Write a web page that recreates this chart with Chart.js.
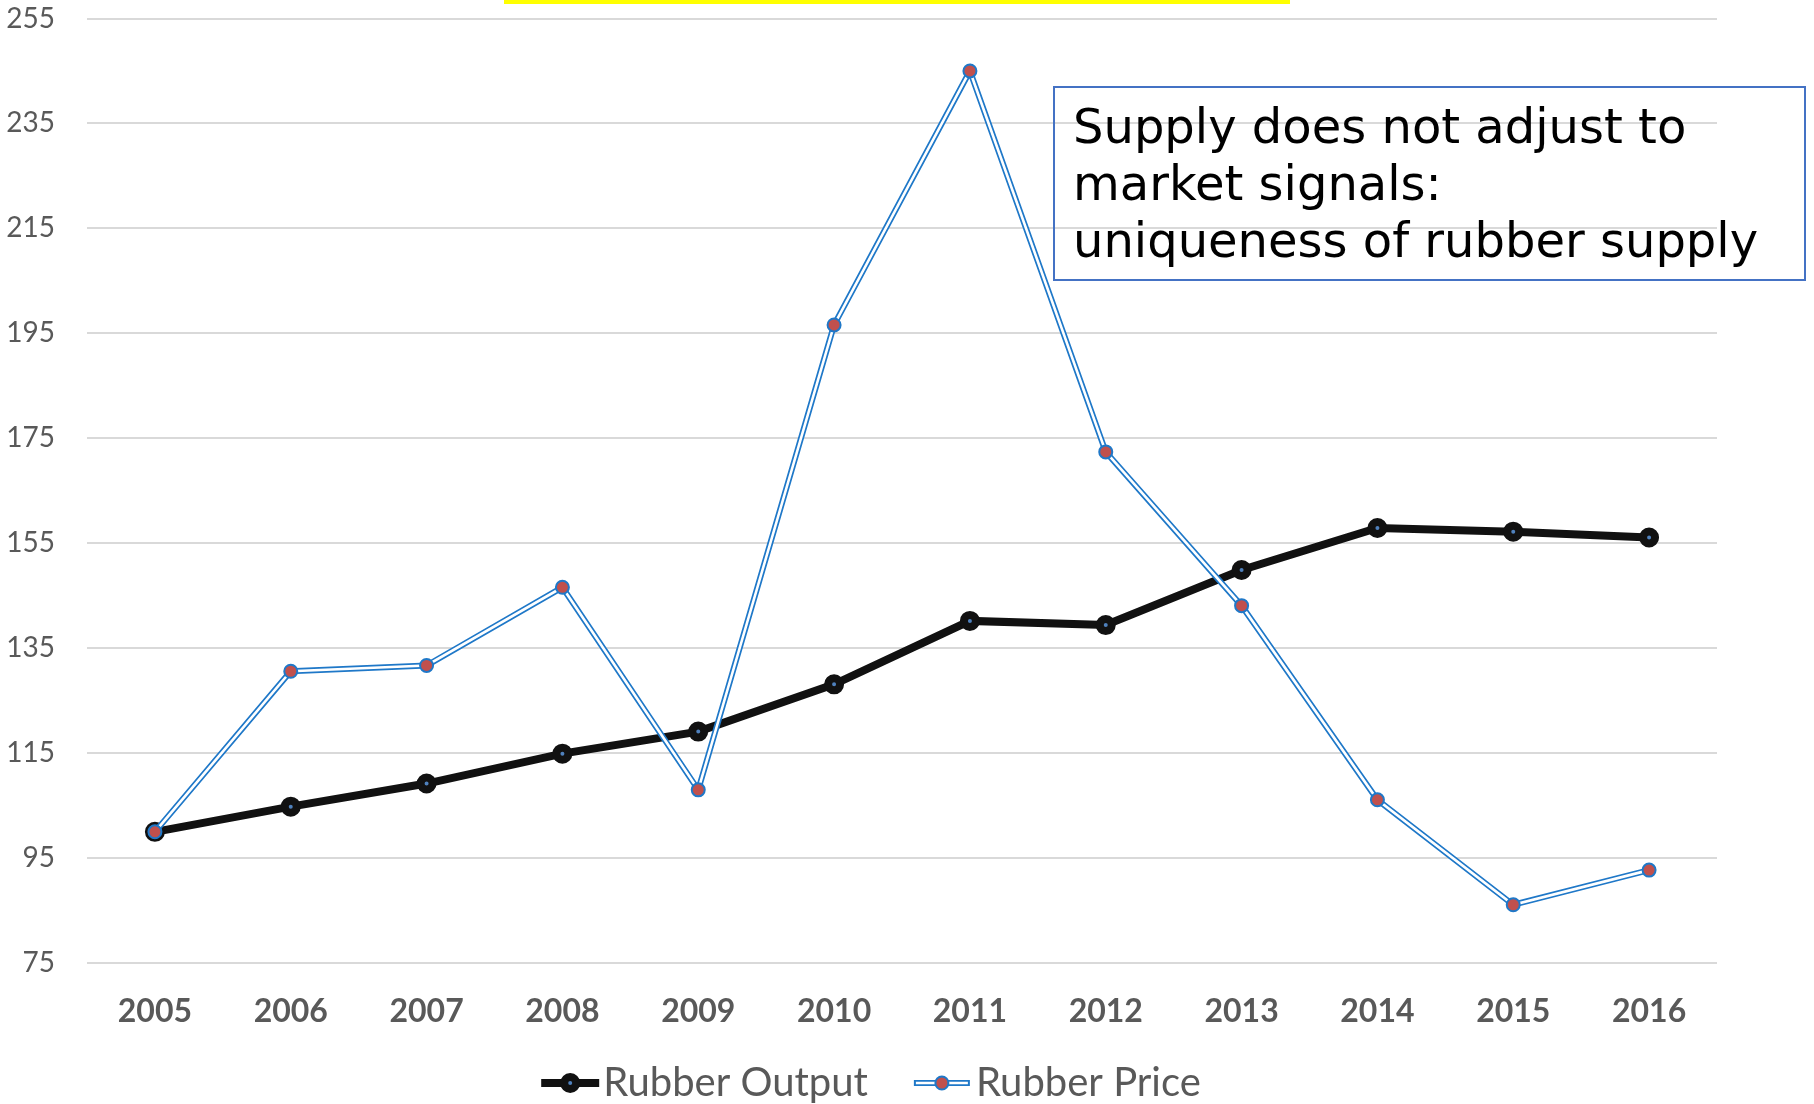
<!DOCTYPE html>
<html>
<head>
<meta charset="utf-8">
<script src="https://cdn.jsdelivr.net/npm/chart.js@4.4.0/dist/chart.umd.min.js"></script>
<style>
    body { margin: 0; background: #ffffff; }
    #wrap { width: 1814px; height: 1104px; }
</style>
</head>
<body>
<div id="wrap"><canvas id="rubberChart" width="1814" height="1104"></canvas></div>
<script>
const years = ['2005', '2006', '2007', '2008', '2009', '2010', '2011', '2012', '2013', '2014', '2015', '2016'];
const rubberOutput = [100, 104.8, 109.2, 114.9, 119.1, 128.1, 140.2, 139.4, 149.9, 157.9, 157.2, 156.1];
const rubberPrice = [100, 130.6, 131.7, 146.6, 108, 196.6, 245, 172.4, 143.1, 106.1, 86.1, 92.7];
const seriesNames = ['Rubber Output', 'Rubber Price'];
const yMin = 75, yMax = 255, yStep = 20;
const noteLines = ['Supply does not adjust to', 'market signals:', 'uniqueness of rubber supply'];

const GRAY = '#595959';
const PRICE_BLUE = '#1f78c8';
const PRICE_RED = '#c0504d';
const DOT_BLUE = '#4f81bd';

// legend symbols (line + marker), drawn like the excel ones
function drawOutputSymbol(ctx, x, y) {
    ctx.strokeStyle = '#111';
    ctx.lineWidth = 8;
    ctx.beginPath();
    ctx.moveTo(x, y);
    ctx.lineTo(x + 58, y);
    ctx.stroke();
    ctx.beginPath();
    ctx.arc(x + 29, y, 6, 0, Math.PI * 2);
    ctx.fillStyle = DOT_BLUE;
    ctx.fill();
    ctx.lineWidth = 8;
    ctx.stroke();
}

function drawPriceSymbol(ctx, x, y) {
    ctx.lineCap = 'butt';
    ctx.strokeStyle = PRICE_BLUE;
    ctx.lineWidth = 6;
    ctx.beginPath();
    ctx.moveTo(x, y);
    ctx.lineTo(x + 56, y);
    ctx.stroke();
    ctx.strokeStyle = '#fff';
    ctx.lineWidth = 2.6;
    ctx.beginPath();
    ctx.moveTo(x + 2, y);
    ctx.lineTo(x + 54, y);
    ctx.stroke();
    ctx.beginPath();
    ctx.arc(x + 28, y, 6.5, 0, Math.PI * 2);
    ctx.fillStyle = PRICE_RED;
    ctx.fill();
    ctx.strokeStyle = PRICE_BLUE;
    ctx.lineWidth = 2;
    ctx.stroke();
}

const overlayPlugin = {
    id: 'overlay',
    afterDraw(chart) {
        const ctx = chart.ctx;
        ctx.save();

        // yellow strip left over from the slide title
        ctx.fillStyle = '#ffff00';
        ctx.fillRect(504, 0, 786, 4);

        // note box
        ctx.strokeStyle = '#4472c4';
        ctx.lineWidth = 2;
        ctx.strokeRect(1054, 87, 751, 193);
        ctx.fillStyle = '#000';
        ctx.font = '48px "DejaVu Sans"';
        ctx.textBaseline = 'middle';
        ctx.textAlign = 'left';
        noteLines.forEach((line, i) => {
            ctx.fillText(line, 1073, 131 + i * 57);
        });

        // legend
        ctx.font = '40px Lato';
        const tw1 = ctx.measureText(seriesNames[0]).width;
        const tw2 = ctx.measureText(seriesNames[1]).width;
        const total = 58 + 4 + tw1 + 46 + 58 + 4 + tw2;
        let x = 871 - total / 2;
        const ly = 1083;
        drawOutputSymbol(ctx, x, ly);
        ctx.fillStyle = GRAY;
        ctx.fillText(seriesNames[0], x + 62, ly);
        x += 62 + tw1 + 46;
        drawPriceSymbol(ctx, x, ly);
        ctx.fillStyle = GRAY;
        ctx.fillText(seriesNames[1], x + 62, ly);

        ctx.restore();
    }
};

const ctx = document.getElementById('rubberChart').getContext('2d');
const rubberChart = new Chart(ctx, {
    type: 'line',
    data: {
        labels: years,
        datasets: [
            {
                label: seriesNames[0],
                data: rubberOutput,
                borderColor: '#111111',
                borderWidth: 8,
                pointRadius: 6,
                pointBorderWidth: 8,
                pointBorderColor: '#111111',
                pointBackgroundColor: DOT_BLUE,
                order: 4
            },
            {
                label: seriesNames[1],
                data: rubberPrice,
                borderColor: PRICE_BLUE,
                borderWidth: 6,
                pointRadius: 0,
                order: 3
            },
            {
                label: 'price-inner',
                data: rubberPrice,
                borderColor: '#ffffff',
                borderWidth: 2.6,
                pointRadius: 0,
                order: 2
            },
            {
                label: 'price-markers',
                data: rubberPrice,
                showLine: false,
                pointRadius: 6.5,
                pointBorderWidth: 2,
                pointBorderColor: PRICE_BLUE,
                pointBackgroundColor: PRICE_RED,
                order: 1
            }
        ]
    },
    options: {
        responsive: false,
        animation: false,
        layout: {padding: {top: 18.5, right: 97, bottom: 0, left: 0}},
        plugins: {
            legend: {display: false},
            tooltip: {enabled: false}
        },
        elements: {line: {tension: 0}},
        scales: {
            x: {
                offset: true,
                grid: {display: false},
                border: {display: false},
                ticks: {
                    color: GRAY,
                    padding: 21,
                    font: {family: 'Lato', size: 32, weight: 'bold'}
                },
                afterFit: (scale) => {
                    scale.height = 141;
                    scale.paddingLeft = 0;
                    scale.paddingRight = 0;
                }
            },
            y: {
                min: yMin,
                max: yMax,
                grid: {color: '#d9d9d9', lineWidth: 2, drawTicks: false},
                border: {display: false},
                ticks: {
                    stepSize: yStep,
                    color: GRAY,
                    padding: 32,
                    font: {family: 'Lato', size: 28}
                },
                afterFit: (scale) => {
                    scale.width = 87;
                    scale.paddingTop = 0;
                    scale.paddingBottom = 0;
                }
            }
        }
    },
    plugins: [overlayPlugin]
});
</script>
</body>
</html>
